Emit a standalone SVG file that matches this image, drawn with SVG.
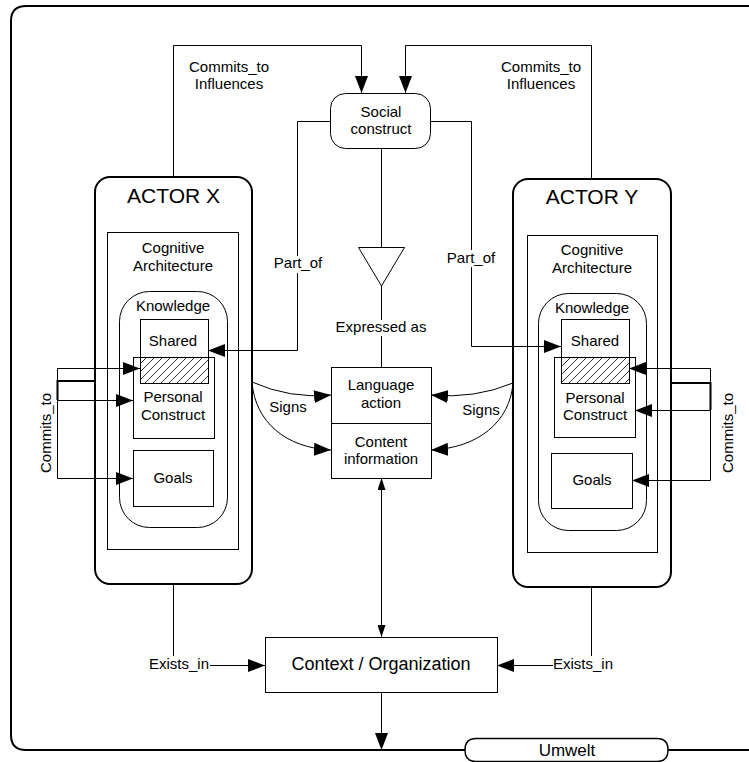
<svg xmlns="http://www.w3.org/2000/svg" width="749" height="762" viewBox="0 0 749 762">
<defs>
<style>
text{font-family:"Liberation Sans",Arial,sans-serif;font-size:15px;fill:#000;text-anchor:middle}
.box{fill:#fff;stroke:#000;stroke-width:1}
.thick{fill:#fff;stroke:#000;stroke-width:2}
.ln{fill:none;stroke:#000;stroke-width:1}
.tl{fill:none;stroke:#000;stroke-width:2}
.big{font-size:21px}
</style>
<marker id="a" markerUnits="userSpaceOnUse" markerWidth="17" markerHeight="13" refX="17" refY="6.5" orient="auto"><path d="M0,0 L17,6.5 L0,13 z" fill="#000"/></marker>
<marker id="n" markerUnits="userSpaceOnUse" markerWidth="12" markerHeight="8" refX="12" refY="4" orient="auto"><path d="M0,0 L12,4 L0,8 z" fill="#000"/></marker>
<marker id="ns" markerUnits="userSpaceOnUse" markerWidth="12" markerHeight="8" refX="0" refY="4" orient="auto"><path d="M12,0 L0,4 L12,8 z" fill="#000"/></marker>
<pattern id="hatch" patternUnits="userSpaceOnUse" width="8" height="8"><path d="M-2,2 L2,-2 M0,8 L8,0 M6,10 L10,6" stroke="#000" stroke-width="0.8"/></pattern>
</defs>
<rect width="749" height="762" fill="#fff"/>

<g id="frame">
<path class="tl" d="M760,6 H26 Q11,6 11,21 V735 Q11,750 26,750 H760"/>
</g>

<g id="social-construct">
<rect class="box" x="330.5" y="93.5" width="100" height="55" rx="15"/>
<text x="381" y="117">Social</text><text x="381" y="134">construct</text>
</g>

<g id="expressed-triangle">
<path class="box" d="M358.5,247.5 H404.5 L381.5,286 Z"/>
</g>

<g id="actor-x">
<rect class="thick" x="95" y="177" width="157" height="407" rx="15"/>
<text class="big" x="173.5" y="203">ACTOR X</text>
<rect class="box" x="107.5" y="232.5" width="131" height="317"/>
<text x="173" y="253">Cognitive</text><text x="173" y="271">Architecture</text>
<rect class="box" x="119.5" y="291.5" width="108" height="236" rx="30"/>
<text x="173" y="311">Knowledge</text>
<rect class="box" x="133.5" y="357.5" width="81" height="81"/>
<rect class="box" x="140.5" y="319.5" width="68" height="38"/>
<rect x="140.5" y="357.5" width="68" height="26" fill="url(#hatch)" stroke="#000" stroke-width="1"/>
<text x="173" y="346">Shared</text>
<text x="173" y="402">Personal</text><text x="173" y="420">Construct</text>
<rect class="box" x="133.5" y="450.5" width="80" height="56"/>
<text x="173" y="483">Goals</text>
</g>

<g id="actor-y">
<rect class="thick" x="513" y="179" width="158" height="408" rx="15"/>
<text class="big" x="592" y="204">ACTOR Y</text>
<rect class="box" x="527.5" y="235.5" width="130" height="317"/>
<text x="592" y="255">Cognitive</text><text x="592" y="273">Architecture</text>
<rect class="box" x="538.5" y="293.5" width="108" height="237" rx="30"/>
<text x="592" y="313">Knowledge</text>
<rect class="box" x="554.5" y="357.5" width="81" height="80"/>
<rect class="box" x="561.5" y="319.5" width="68" height="38"/>
<rect x="561.5" y="357.5" width="68" height="26" fill="url(#hatch)" stroke="#000" stroke-width="1"/>
<text x="595" y="346">Shared</text>
<text x="595" y="403">Personal</text><text x="595" y="420">Construct</text>
<rect class="box" x="551.5" y="453.5" width="81" height="55"/>
<text x="592" y="485">Goals</text>
</g>

<g id="language-action">
<rect class="box" x="331.5" y="367.5" width="100" height="56"/>
<text x="381" y="390">Language</text><text x="381" y="408">action</text>
</g>

<g id="content-information">
<rect class="box" x="331.5" y="423.5" width="100" height="55"/>
<text x="381" y="447">Content</text><text x="381" y="464">information</text>
</g>

<g id="context-organization">
<rect class="box" x="265.5" y="637.5" width="232" height="55"/>
<text x="381" y="670" style="font-size:18px">Context / Organization</text>
</g>

<g id="connectors">
<path class="ln" d="M173.5,177 V45.5 H361.5 V93" marker-end="url(#a)"/>
<path class="ln" d="M591.5,179 V45.5 H405.5 V93" marker-end="url(#a)"/>
<path class="ln" d="M330,121.5 H297.5 V256"/>
<path class="ln" d="M297.5,273 V350.5 H208" marker-end="url(#a)"/>
<path class="ln" d="M431,121.5 H471.5 V250"/>
<path class="ln" d="M471.5,267 V346.5 H561" marker-end="url(#a)"/>
<path class="ln" d="M381.5,149 V247"/>
<path class="ln" d="M381.5,286 V320"/>
<path class="ln" d="M381.5,336 V367"/>
<path class="ln" d="M252,382 Q290,399 331,395" marker-end="url(#a)"/>
<path class="ln" d="M252,382 C255,422 286,448 331,450" marker-end="url(#a)"/>
<path class="ln" d="M513,383 Q475,399 431,395" marker-end="url(#a)"/>
<path class="ln" d="M513,383 C510,422 478,448 431,450" marker-end="url(#a)"/>
<path class="ln" d="M57.5,368 V478.5"/>
<path class="ln" d="M57.5,368.5 H140" marker-end="url(#a)"/>
<path class="ln" d="M57.5,400.5 H133" marker-end="url(#a)"/>
<path class="ln" d="M57.5,478.5 H133" marker-end="url(#a)"/>
<path class="tl" d="M96,381 H57.5 V400"/>
<path class="ln" d="M710.5,368 V480.5"/>
<path class="ln" d="M710.5,368.5 H629" marker-end="url(#a)"/>
<path class="ln" d="M710.5,410.5 H635" marker-end="url(#a)"/>
<path class="ln" d="M710.5,480.5 H632" marker-end="url(#a)"/>
<path class="tl" d="M671,383 H710.5 V410"/>
<path class="ln" d="M381.5,478 V637" marker-start="url(#ns)" marker-end="url(#n)"/>
<path class="ln" d="M173.5,584 V656"/>
<path class="ln" d="M210,665.5 H265" marker-end="url(#a)"/>
<path class="ln" d="M591.5,587 V656"/>
<path class="ln" d="M553,665.5 H497" marker-end="url(#a)"/>
<path class="ln" d="M381.5,692 V750" marker-end="url(#a)"/>
</g>

<g id="umwelt">
<path d="M476,738.5 H657 Q668,738.5 668,750 Q668,761.5 657,761.5 H476 Q465,761.5 465,750 Q465,738.5 476,738.5 Z" fill="#fff" stroke="#000" stroke-width="1.5"/>
<text x="567" y="756" style="font-size:17px">Umwelt</text>
</g>

<g id="labels">
<text x="229" y="72">Commits_to</text><text x="229" y="89">Influences</text>
<text x="541" y="72">Commits_to</text><text x="541" y="89">Influences</text>
<text x="298" y="268">Part_of</text><text x="471" y="263">Part_of</text>
<text x="381" y="332">Expressed as</text>
<text x="288" y="412">Signs</text><text x="481" y="415">Signs</text>
<text transform="translate(51,433) rotate(-90)">Commits_to</text>
<text transform="translate(733,433) rotate(-90)">Commits_to</text>
<text x="179" y="669">Exists_in</text><text x="583" y="669">Exists_in</text>
</g>
</svg>
